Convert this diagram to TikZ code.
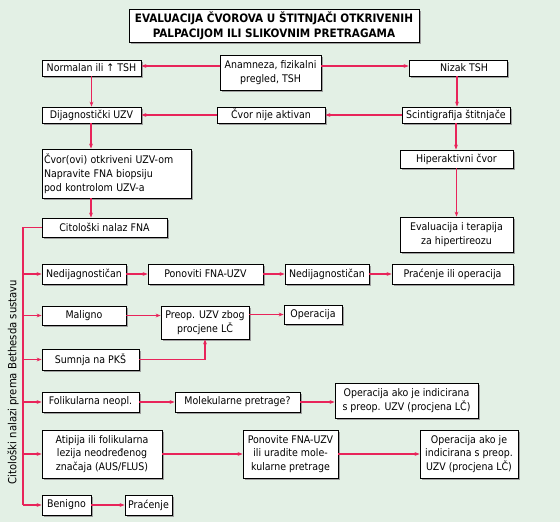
\documentclass[tikz,border=0pt]{standalone}
\usepackage{fontspec}
\setmainfont{DejaVu Sans Condensed}
\usetikzlibrary{shadows,arrows.meta,calc}
\definecolor{bgc}{HTML}{E3F0E5}
\definecolor{lnc}{HTML}{E8245A}
\tikzset{
  bx/.style={draw=black, line width=0.8pt, fill=white, inner sep=1pt, align=center,
    font=\fontsize{10.5}{13.5}\selectfont,
    drop shadow={shadow xshift=1.6pt, shadow yshift=-1.6pt, fill=gray!75, opacity=1}},
  ln/.style={draw=lnc, line width=1.6pt},
  arr/.style={ln, -{Stealth[length=5pt,width=3.8pt]}},
}
\newcommand{\bxn}[6]{\node[bx, minimum width=#4pt, minimum height=#5pt] (#1) at (#2,#3) {#6};}
\begin{document}
\begin{tikzpicture}[x=1pt,y=-1pt]
\fill[bgc] (0,0) rectangle (560,522);
\useasboundingbox (0,0) rectangle (560,522);
\node[bx, minimum width=290pt, minimum height=33pt, font=\fontsize{11.6}{15}\selectfont\bfseries] (title) at (274,25.5) {EVALUACIJA ČVOROVA U ŠTITNJAČI OTKRIVENIH\\PALPACIJOM ILI SLIKOVNIM PRETRAGAMA};
\bxn{norm}{91.5}{68}{99}{16}{Normalan ili ↑ TSH}
\bxn{anam}{270.5}{72.5}{101}{35}{Anamneza, fizikalni\\pregled, TSH}
\bxn{nizak}{458}{68}{98}{16}{\hspace*{12pt}Nizak TSH}
\bxn{dij}{91.5}{115}{99}{16}{Dijagnostički UZV}
\bxn{cna}{271}{115}{108}{16}{Čvor nije aktivan}
\bxn{scin}{456}{115}{108}{16}{Scintigrafija štitnjače}
\node[bx, minimum width=149pt, minimum height=49pt, align=left, text width=145pt, font=\fontsize{10.5}{14}\selectfont] (cvor) at (116.5,173.5) {Čvor(ovi) otkriveni UZV-om\\Napravite FNA biopsiju\\pod kontrolom UZV-a};
\bxn{cit}{104.5}{227.5}{125}{19}{Citološki nalaz FNA}
\bxn{hip}{456.5}{159}{113}{18}{Hiperaktivni čvor}
\bxn{evl}{456.5}{234.5}{113}{35}{Evaluacija i terapija\\za hipertireozu}
\bxn{ned1}{84}{274}{84}{20}{Nedijagnostičan}
\bxn{pon}{205.5}{274}{115}{20}{Ponoviti FNA-UZV}
\bxn{ned2}{327}{274}{84}{20}{Nedijagnostičan}
\bxn{prac}{452.5}{274}{121}{20}{Praćenje ili operacija}
\bxn{mal}{84}{315.5}{84}{19}{Maligno}
\bxn{preop}{205}{322.5}{88}{33}{Preop. UZV zbog\\procjene LČ}
\bxn{oper}{313}{314.5}{58}{19}{Operacija}
\bxn{sum}{90.5}{359.5}{97}{21}{Sumnja na PKŠ}
\bxn{fol}{90.5}{402}{97}{20}{Folikularna neopl.}
\bxn{mol}{237.5}{402}{125}{20}{Molekularne pretrage?}
\bxn{opa}{406.5}{400.5}{143}{35}{Operacija ako je indicirana\\s preop. UZV (procjena LČ)}
\bxn{ati}{102}{454}{120}{48}{Atipija ili folikularna\\lezija neodređenog\\značaja (AUS/FLUS)}
\bxn{pon2}{290.5}{454}{95}{48}{Ponovite FNA-UZV\\ili uradite mole-\\kularne pretrage}
\bxn{opb}{469}{454}{98}{48}{Operacija ako je\\indicirana s preop.\\UZV (procjena LČ)}
\bxn{ben}{66.5}{505}{49}{20}{Benigno}
\bxn{pra}{148.5}{505}{47}{20}{Praćenje}
\node[rotate=90, font=\fontsize{11.2}{12}\selectfont] (lab) at (13,382) {Citološki nalazi prema Bethesda sustavu};
% connectors top
\draw[arr] (anam.west |- 0,66) -- (norm.east |- 0,66);
\draw[arr] (anam.east |- 0,66) -- (nizak.west |- 0,66);
\draw[arr] (norm) -- (dij);
\draw[arr] ($(nizak.south)+(-1,0)$) -- ($(nizak.south |- scin.north)+(-1,0)$);
\draw[arr] (scin) -- (cna);
\draw[arr] (cna) -- (dij);
\coordinate (vx) at (91,0);
\draw[arr] (vx |- dij.south) -- (vx |- cvor.north);
\draw[arr] (vx |- cvor.south) -- (vx |- cit.north);
\draw[arr] (scin.south) -- (scin.south |- hip.north);
\draw[arr] (hip) -- (evl);
% spine
\coordinate (sp) at (23,505);
\draw[ln] (cit.west) -| (sp);
\foreach \n in {ned1,mal,sum,fol,ati,ben}{
  \draw[arr] (sp |- \n.west) -- (\n.west);
}
\draw[arr] (ned1) -- (pon);
\draw[arr] (pon) -- (ned2);
\draw[arr] (ned2) -- (prac);
\draw[arr] (mal.east) -- (mal.east -| preop.west);
\draw[arr] (preop.east |- oper.west) -- (oper.west);
\draw[arr] (sum.east) -| (preop.south);
\draw[arr] (fol) -- (mol);
\draw[arr] (mol.east) -- (mol.east -| opa.west);
\draw[arr] (ati) -- (pon2);
\draw[arr] (pon2) -- (opb);
\draw[arr] (ben) -- (pra);
\end{tikzpicture}
\end{document}
